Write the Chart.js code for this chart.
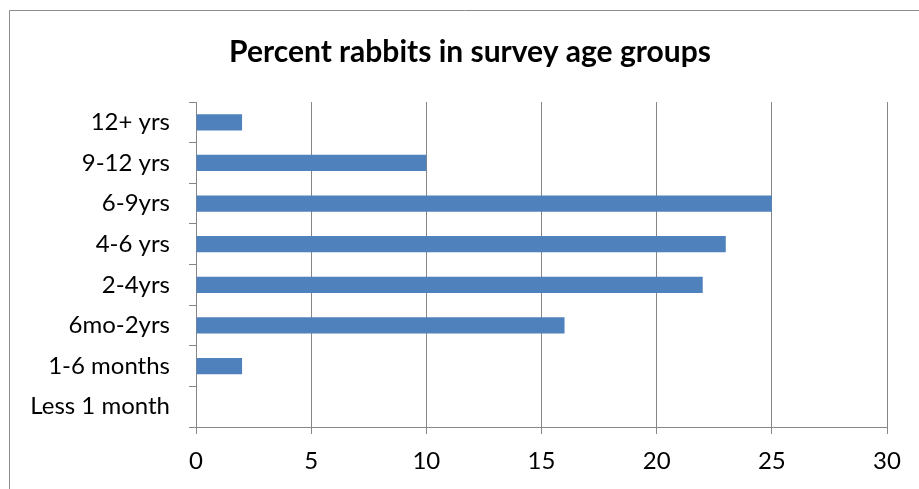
<!DOCTYPE html>
<html lang="en">
<head>
  <meta charset="UTF-8">
  <title>Percent rabbits in survey age groups</title>
  <script src="https://cdn.jsdelivr.net/npm/chart.js"></script>
  <style>
    html, body { margin: 0; padding: 0; background: #fff; }
    #wrap { width: 919px; height: 489px; }
  </style>
</head>
<body>
  <div id="wrap"><canvas id="ageChart" width="919" height="489"></canvas></div>

<script>
// data (bottom to top in the original)
const ageGroups = ['12+ yrs', '9-12 yrs', '6-9yrs', '4-6 yrs', '2-4yrs', '6mo-2yrs', '1-6 months', 'Less 1 month'];
const percentRabbits = [2, 10, 25, 23, 22, 16, 2, 0];
const xTicks = [0, 5, 10, 15, 20, 25, 30];

const fontFamily = "Lato, 'Open Sans', sans-serif";
const gridGray = '#868686';

// outer frame of the chart (only left and top edges are in view)
const framePlugin = {
  id: 'frame',
  afterLayout(chart) {
    // title sits a bit right of the canvas centre in the original
    if (chart.titleBlock) chart.titleBlock.left = 53;
  },
  beforeDraw(chart) {
    const ctx = chart.ctx;
    ctx.save();
    ctx.fillStyle = '#fff';
    ctx.fillRect(0, 0, chart.width, chart.height);
    ctx.strokeStyle = '#8c8c8c';
    ctx.lineWidth = 1;
    ctx.beginPath();
    ctx.moveTo(9.5, chart.height);
    ctx.lineTo(9.5, 10.5);
    ctx.lineTo(chart.width, 10.5);
    ctx.stroke();
    ctx.restore();
  }
};

const ctx = document.getElementById('ageChart').getContext('2d');
new Chart(ctx, {
  type: 'bar',
  data: {
    labels: ageGroups,
    datasets: [{
      data: percentRabbits,
      backgroundColor: '#4F81BD',
      borderWidth: 0,
      barPercentage: 0.4,
      categoryPercentage: 1
    }]
  },
  options: {
    indexAxis: 'y',
    responsive: false,
    animation: false,
    layout: { padding: { left: 0, right: 32, top: 0, bottom: 0 } },
    plugins: {
      legend: { display: false },
      tooltip: { enabled: false },
      title: {
        display: true,
        text: 'Percent rabbits in survey age groups',
        color: '#000',
        font: { family: fontFamily, size: 30, weight: 'bold', lineHeight: 1.2 },
        padding: { top: 34, bottom: 32 }
      }
    },
    scales: {
      x: {
        min: 0,
        max: 30,
        afterBuildTicks: (scale) => { scale.ticks = xTicks.map(v => ({ value: v })); },
        afterFit: (scale) => { scale.height = 62; },
        grid: { color: gridGray, lineWidth: 1, tickLength: 7 },
        border: { color: gridGray, width: 1 },
        ticks: { color: '#000', padding: 13, font: { family: fontFamily, size: 24 } }
      },
      y: {
        afterFit: (scale) => { scale.width = 196; },
        grid: { drawOnChartArea: false, color: gridGray, tickLength: 7 },
        border: { color: gridGray, width: 1 },
        ticks: { color: '#000', padding: 19, font: { family: fontFamily, size: 24 } }
      }
    }
  },
  plugins: [framePlugin]
});
</script>
</body>
</html>
